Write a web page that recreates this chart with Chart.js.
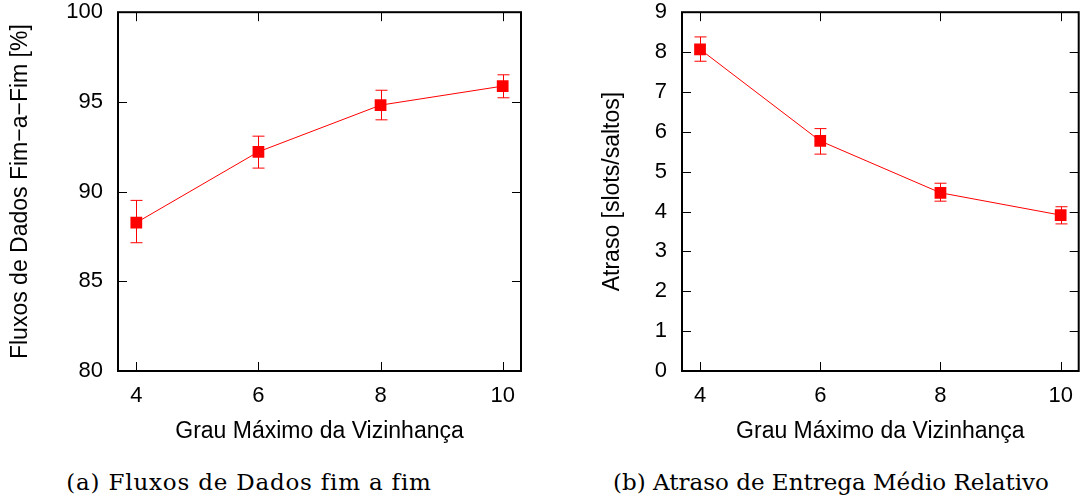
<!DOCTYPE html>
<html>
<head>
<meta charset="utf-8">
<script src="https://cdn.jsdelivr.net/npm/chart.js@4.4.1/dist/chart.umd.min.js"></script>
<style>
  body { margin: 0; background: #fff; width: 1087px; height: 503px; position: relative; overflow: hidden; }
  .box { position: absolute; top: -16px; height: 467px; }
  .cap { position: absolute; top: 469px; font-family: "DejaVu Serif", "Liberation Serif", serif; font-size: 23px; color: #000; white-space: nowrap; transform: translateX(-50%); }
</style>
</head>
<body>
<div class="box" style="left:0px;width:540px"><canvas id="chartA"></canvas></div>
<div class="box" style="left:545px;width:542px"><canvas id="chartB"></canvas></div>
<div class="cap" style="left:249px;letter-spacing:0.8px">(a) Fluxos de Dados fim a fim</div>
<div class="cap" style="left:831px">(b) Atraso de Entrega Médio Relativo</div>
<script>
var grau = [4, 6, 8, 10];

var fluxos = [88.27, 92.22, 94.82, 95.88];
var fluxosMin = [87.15, 91.31, 94.0, 95.23];
var fluxosMax = [89.51, 93.09, 95.65, 96.51];
var fluxosTicks = [80, 85, 90, 95, 100];

var atraso = [8.07, 5.77, 4.47, 3.91];
var atrasoMin = [7.77, 5.44, 4.26, 3.69];
var atrasoMax = [8.38, 6.08, 4.71, 4.12];
var atrasoTicks = [0, 1, 2, 3, 4, 5, 6, 7, 8, 9];

var red = '#ff0000';
var font = { family: 'Liberation Sans, Arial, sans-serif', size: 22 };
var titleFont = { family: 'Liberation Sans, Arial, sans-serif', size: 23 };

// frame with inward ticks on all four sides, gnuplot style
var framePlugin = {
    id: 'frame',
    afterDraw: function(chart) {
        var ctx = chart.ctx, a = chart.chartArea;
        var xs = chart.scales.x, ys = chart.scales.y;
        ctx.save();
        ctx.strokeStyle = '#000';
        ctx.lineWidth = 1;
        ctx.beginPath();
        xs.ticks.forEach(function(t) {
            var px = Math.round(xs.getPixelForValue(t.value)) + 0.5;
            ctx.moveTo(px, a.bottom); ctx.lineTo(px, a.bottom - 9);
            ctx.moveTo(px, a.top); ctx.lineTo(px, a.top + 9);
        });
        ys.ticks.forEach(function(t) {
            var py = Math.round(ys.getPixelForValue(t.value)) + 0.5;
            ctx.moveTo(a.left, py); ctx.lineTo(a.left + 9, py);
            ctx.moveTo(a.right, py); ctx.lineTo(a.right - 9, py);
        });
        ctx.stroke();
        ctx.lineWidth = 2;
        ctx.strokeRect(a.left, a.top, a.right - a.left, a.bottom - a.top);
        ctx.restore();
    }
};

// vertical error bars with caps, drawn before the points
var errorPlugin = {
    id: 'errbars',
    beforeDatasetsDraw: function(chart, args, opts) {
        var ctx = chart.ctx;
        var xs = chart.scales.x, ys = chart.scales.y;
        ctx.save();
        ctx.strokeStyle = red;
        ctx.lineWidth = 1;
        ctx.beginPath();
        opts.lo.forEach(function(lo, i) {
            var px = Math.round(xs.getPixelForValue(grau[i])) + 0.5;
            var y1 = ys.getPixelForValue(lo);
            var y2 = ys.getPixelForValue(opts.hi[i]);
            ctx.moveTo(px, y1); ctx.lineTo(px, y2);
            ctx.moveTo(px - 6, y1); ctx.lineTo(px + 6, y1);
            ctx.moveTo(px - 6, y2); ctx.lineTo(px + 6, y2);
        });
        ctx.stroke();
        ctx.restore();
    }
};

function makeChart(id, values, lo, hi, yTicks, yTitle, yWidth, yTitlePad, padRight) {
    var pts = grau.map(function(g, i) { return { x: g, y: values[i] }; });
    return new Chart(document.getElementById(id), {
        type: 'line',
        data: {
            datasets: [{
                data: pts,
                borderColor: red,
                backgroundColor: red,
                borderWidth: 1,
                pointStyle: 'rect',
                pointRadius: 8.3,
                pointBorderWidth: 0,
                tension: 0
            }]
        },
        options: {
            responsive: true,
            maintainAspectRatio: false,
            animation: false,
            layout: { padding: { top: 12, right: padRight, left: 0, bottom: 0 } },
            plugins: {
                legend: { display: false },
                tooltip: { enabled: false },
                errbars: { lo: lo, hi: hi }
            },
            scales: {
                x: {
                    type: 'linear',
                    min: 3.7,
                    max: 10.3,
                    afterBuildTicks: function(s) { s.ticks = grau.map(function(v) { return { value: v }; }); },
                    afterFit: function(s) { s.height = 80; },
                    grid: { display: false, drawTicks: false },
                    border: { display: false },
                    ticks: { color: '#000', font: font, padding: 12, maxRotation: 0 },
                    title: { display: true, text: 'Grau Máximo da Vizinhança', color: '#000', font: titleFont, padding: { bottom: 6 } }
                },
                y: {
                    min: yTicks[0],
                    max: yTicks[yTicks.length - 1],
                    afterBuildTicks: function(s) { s.ticks = yTicks.map(function(v) { return { value: v }; }); },
                    afterFit: function(s) { s.width = yWidth; },
                    grid: { display: false, drawTicks: false },
                    border: { display: false },
                    ticks: { color: '#000', font: font, padding: 15 },
                    title: { display: true, text: yTitle, color: '#000', font: titleFont, padding: { top: yTitlePad } }
                }
            }
        },
        plugins: [framePlugin, errorPlugin]
    });
}

makeChart('chartA', fluxos, fluxosMin, fluxosMax, fluxosTicks, 'Fluxos de Dados Fim\u2212a\u2212Fim [%]', 118, 7, 19);
makeChart('chartB', atraso, atrasoMin, atrasoMax, atrasoTicks, 'Atraso [slots/saltos]', 137, 54, 2);
</script>
</body>
</html>
